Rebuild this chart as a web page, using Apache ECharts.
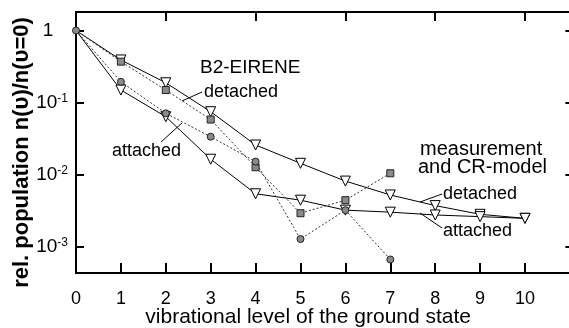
<!DOCTYPE html>
<html>
<head>
<meta charset="utf-8">
<script src="https://cdn.jsdelivr.net/npm/echarts@6/dist/echarts.min.js"></script>
<style>html,body{margin:0;padding:0;background:#fff;}#c{width:569px;height:328px;}</style>
</head>
<body>
<div id="c"></div>
<script>
// vibrational levels
const levels = [0, 1, 2, 3, 4, 5, 6, 7, 8, 9, 10];
// solid lines with down-triangles
const triUpper = [1, 0.39, 0.188, 0.0745, 0.0257, 0.0143, 0.0081, 0.0052, 0.0037, 0.0028, 0.00246];
const triLower = [1, 0.149, 0.0635, 0.0163, 0.0054, 0.0044, 0.0032, 0.0030, 0.00274, 0.0026, 0.00246];
// dotted lines (squares, circles), levels 0..7
const squares = [1, 0.369, 0.149, 0.058, 0.0126, 0.0029, 0.0044, 0.0104];
const circles = [1, 0.194, 0.0707, 0.0335, 0.0151, 0.00127, 0.0032, 0.00066];
const xTickLabels = ['0','1','2','3','4','5','6','7','8','9','10'];

const FONT = 'Liberation Sans, Arial, sans-serif';

function pairs(vals, hideFirst) {
  return vals.map((v, i) => {
    const p = { value: [levels[i], v] };
    if (hideFirst && i === 0) p.symbol = 'none';
    return p;
  });
}

const chart = echarts.init(document.getElementById('c'), null, { renderer: 'canvas' });

const yMin = Math.pow(10, -3.368), yMax = Math.pow(10, 0.257);

function yFmt(v) {
  const e = Math.round(Math.log10(v));
  if (Math.abs(Math.log10(v) - e) > 0.01) return '';
  if (e === 0) return '{b|1}{h|-1-}';
  return '{b|10}{s|' + e + '}';
}

const option = {
  animation: false,
  backgroundColor: '#fff',
  grid: { left: 76, top: 12, width: 498.4, height: 261, containLabel: false, outerBoundsMode: 'none' },
  xAxis: [
    {
      type: 'value', min: 0, max: 11.1, interval: 1, position: 'bottom',
      axisLine: { show: true, onZero: false, lineStyle: { color: '#000', width: 2 } },
      axisTick: { show: true, inside: true, length: 10, lineStyle: { color: '#000', width: 2 } },
      axisLabel: {
        margin: 17, fontSize: 18, color: '#000', fontFamily: FONT,
        showMaxLabel: false,
        formatter: v => (v <= 10 ? xTickLabels[Math.round(v)] : '')
      },
      splitLine: { show: false },
      name: 'vibrational level of the ground state',
      nameLocation: 'middle', nameGap: 34, nameMoveOverlap: false,
      nameTextStyle: { fontSize: 21, color: '#000', fontFamily: FONT, padding: [0, 34, 0, 0] }
    },
    {
      type: 'value', min: 0, max: 11.1, interval: 2, position: 'top',
      axisLine: { show: true, onZero: false, lineStyle: { color: '#000', width: 2 } },
      axisTick: { show: true, inside: true, length: 9, lineStyle: { color: '#000', width: 2 } },
      axisLabel: { show: false },
      splitLine: { show: false }
    }
  ],
  yAxis: [
    {
      type: 'log', logBase: 10, min: yMin, max: yMax, position: 'left',
      axisLine: { show: true, onZero: false, lineStyle: { color: '#000', width: 2 } },
      axisTick: { show: true, inside: true, length: 8, lineStyle: { color: '#000', width: 2 } },
      minorTick: { show: false },
      axisLabel: {
        margin: 8, color: '#000', fontFamily: FONT,
        showMinLabel: false, showMaxLabel: false,
        formatter: yFmt,
        rich: {
          b: { fontSize: 19, fontFamily: FONT, color: '#000' },
          s: { fontSize: 12, fontFamily: FONT, color: '#000', verticalAlign: 'top' },
          h: { fontSize: 12, fontFamily: FONT, color: 'rgba(0,0,0,0)', verticalAlign: 'top' }
        }
      },
      splitLine: { show: false },
      name: 'rel. population n(\u03c5)/n(\u03c5=0)',
      nameLocation: 'middle', nameGap: 43, nameMoveOverlap: false,
      nameTextStyle: { fontSize: 22, fontWeight: 'bold', color: '#000', fontFamily: FONT, padding: [0, 20, 0, 0] }
    },
    {
      type: 'log', logBase: 10, min: yMin, max: yMax, position: 'right',
      axisLine: { show: true, onZero: false, lineStyle: { color: '#000', width: 2 } },
      axisTick: { show: true, inside: true, length: 9, lineStyle: { color: '#000', width: 2 } },
      minorTick: { show: false },
      axisLabel: { show: false },
      splitLine: { show: false }
    }
  ],
  series: [
    {
      name: 'triangles upper', type: 'line', data: pairs(triUpper, true),
      symbol: 'triangle', symbolRotate: 180, symbolSize: 10,
      lineStyle: { color: '#000', width: 1 },
      itemStyle: { color: '#fff', borderColor: '#000', borderWidth: 1 }, z: 2
    },
    {
      name: 'triangles lower', type: 'line', data: pairs(triLower, true),
      symbol: 'triangle', symbolRotate: 180, symbolSize: 10,
      lineStyle: { color: '#000', width: 1 },
      itemStyle: { color: '#fff', borderColor: '#000', borderWidth: 1 }, z: 2
    },
    {
      name: 'squares', type: 'line', data: pairs(squares, true),
      symbol: 'rect', symbolSize: 7,
      lineStyle: { color: '#333', width: 1, type: [2, 2] },
      itemStyle: { color: '#8a8a8a', borderColor: '#222', borderWidth: 1 }, z: 3
    },
    {
      name: 'circles', type: 'line', data: pairs(circles, false),
      symbol: 'circle', symbolSize: 7,
      lineStyle: { color: '#333', width: 1, type: [2, 2] },
      itemStyle: { color: '#8a8a8a', borderColor: '#222', borderWidth: 1 }, z: 4
    }
  ],
  graphic: [
    { type: 'text', left: 200, top: 58, style: { text: 'B2-EIRENE', font: '19px ' + FONT, fill: '#000' } },
    { type: 'text', left: 204, top: 83, style: { text: 'detached', font: '18px ' + FONT, fill: '#000' } },
    { type: 'line', shape: { x1: 182, y1: 101, x2: 202, y2: 92 }, style: { stroke: '#000', lineWidth: 1 } },
    { type: 'text', left: 112, top: 142, style: { text: 'attached', font: '18px ' + FONT, fill: '#000' } },
    { type: 'line', shape: { x1: 161, y1: 142, x2: 182, y2: 123 }, style: { stroke: '#000', lineWidth: 1 } },
    { type: 'text', left: 420, top: 139, style: { text: 'measurement', font: '20px ' + FONT, fill: '#000' } },
    { type: 'text', left: 418, top: 157, style: { text: 'and CR-model', font: '20px ' + FONT, fill: '#000' } },
    { type: 'text', left: 443, top: 185, style: { text: 'detached', font: '18px ' + FONT, fill: '#000' } },
    { type: 'line', shape: { x1: 420, y1: 202, x2: 442, y2: 194 }, style: { stroke: '#000', lineWidth: 1 } },
    { type: 'text', left: 443, top: 222, style: { text: 'attached', font: '18px ' + FONT, fill: '#000' } },
    { type: 'line', shape: { x1: 420, y1: 213, x2: 442, y2: 228 }, style: { stroke: '#000', lineWidth: 1 } }
  ]
};
chart.setOption(option);
</script>
</body>
</html>
